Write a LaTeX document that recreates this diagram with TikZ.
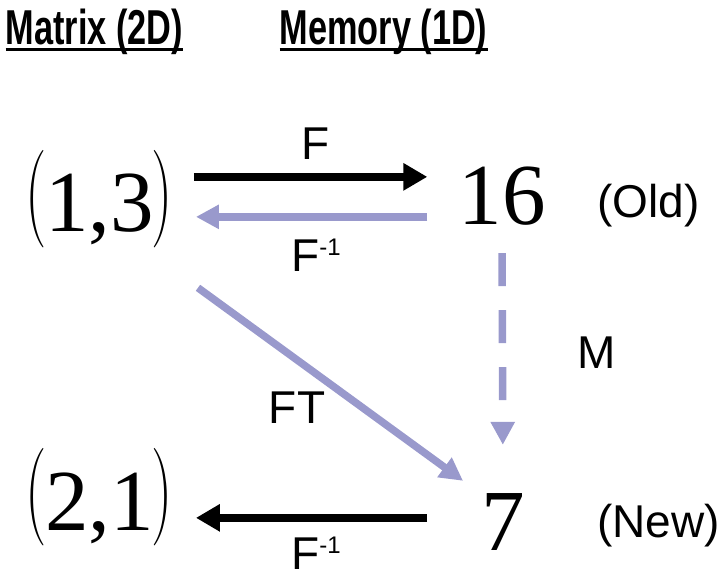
\documentclass[tikz,border=0pt]{standalone}
\usepackage{fontspec}
\usepackage{graphicx}
\usepackage{tikz}
\usetikzlibrary{arrows.meta,calc}
\newfontfamily\arialfont{Liberation Sans}
\newfontfamily\timesfont{Liberation Serif}
\definecolor{fblue}{HTML}{9999CC}
\newcommand\tallparen[1]{\raisebox{8.8pt}{\scalebox{0.75}[1.22]{\rmfamily\fontsize{80}{80}\selectfont #1}}}
\newcommand\invsup{\raisebox{16pt}{\fontsize{24}{24}\selectfont -1}}

\begin{document}
\begin{tikzpicture}[x=1pt,y=-1pt,
  hdr/.style={inner sep=0pt,anchor=base west,font=\arialfont\bfseries\fontsize{49}{49}\selectfont},
  num/.style={inner sep=0pt,anchor=base,font=\timesfont\fontsize{87}{87}\selectfont},
  lbl/.style={inner sep=0pt,anchor=base,font=\arialfont\fontsize{46}{46}\selectfont},
  fat/.style={line width=7.5pt},
  blk/.style={fat,black,-{Triangle[length=24pt,width=26pt]}},
  blu/.style={fat,fblue,-{Triangle[length=23pt,width=23pt]}}]
\useasboundingbox (0,0) rectangle (728,577);
% headers
\node[hdr] (hmat) at (5.5,45) {\scalebox{0.7}[1]{Matrix (2D)}};
\node[hdr] (hmem) at (279.5,45) {\scalebox{0.7}[1]{Memory (1D)}};
\draw[line width=3pt] ($(hmat.base west)+(0,5)$) -- ($(hmat.base east)+(0,5)$);
\draw[line width=3pt] ($(hmem.base west)+(0,5)$) -- ($(hmem.base east)+(0,5)$);
% index and address
\node[num] (m13) at (99,232) {\tallparen{(}\kern-1.2pt 1,3\kern-2.5pt\tallparen{)}};
\node[num] (m21) at (99,530) {\tallparen{(}\kern-1.2pt 2,1\kern-2.5pt\tallparen{)}};
\node[num] (n16) at (502,225) {16};
\node[num] (n7) at (503,550) {7};
% labels
\node[lbl] (lf) at (316,160) {F};
\node[lbl] (lfi) at (316,272) {F\invsup};
\node[lbl] (lfb) at (316,569) {F\invsup};
\node[lbl] (lft) at (297,423) {FT};
\node[lbl] (lm) at (597,368) {M};
\node[lbl,anchor=base west] (old) at (597,218) {(Old)};
\node[lbl,anchor=base west] (new) at (597,537) {(New)};
% arrows
\draw[blk,shorten <=21pt,shorten >=31pt] ([yshift=22pt]m13.east) -- ([yshift=22pt]m13.east -| n16.west);
\draw[blu,shorten <=31pt,shorten >=23pt] ([yshift=-18pt]m13.east -| n16.west) -- ([yshift=-18pt]m13.east);
\draw[blk,shorten <=54pt,shorten >=23pt] ([yshift=-21pt]m21.east -| n7.west) -- ([yshift=-21pt]m21.east);
\draw[blu,dash pattern=on 33pt off 24pt,shorten <=27pt,shorten >=48pt] (n16.south) -- (n7.north);
\draw[blu] ([xshift=25pt,yshift=-40pt]m13.south east) -- ([xshift=-18pt,yshift=12pt]n7.north west);
\end{tikzpicture}
\end{document}
